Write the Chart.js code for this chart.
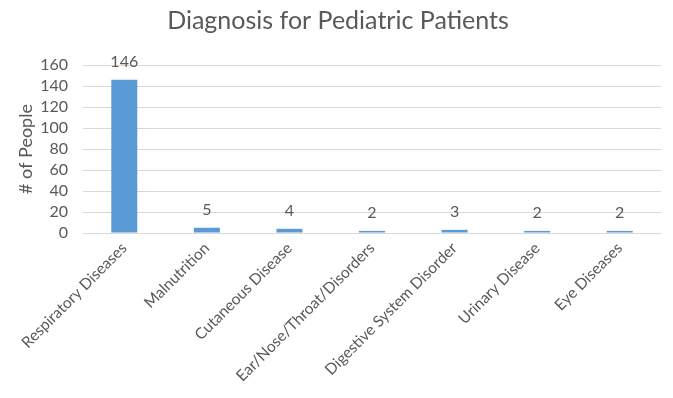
<!DOCTYPE html>
<html>
<head>
<meta charset="utf-8">
<script src="https://cdn.jsdelivr.net/npm/chart.js@4/dist/chart.umd.min.js"></script>
<style>
  html, body { margin: 0; padding: 0; background: #fff; }
  #wrap { width: 673px; height: 398px; }
</style>
</head>
<body>
<div id="wrap"><canvas id="chart"></canvas></div>
<script>
const categories = ['Respiratory Diseases', 'Malnutrition', 'Cutaneous Disease', 'Ear/Nose/Throat/Disorders', 'Digestive System Disorder', 'Urinary Disease', 'Eye Diseases'];
const people = [146, 5, 4, 2, 3, 2, 2];

const FONT = 'Lato, "Open Sans", sans-serif';
const GREY = '#595959';

// value labels above each bar
const barLabels = {
  id: 'barLabels',
  afterDatasetsDraw(chart) {
    const ctx = chart.ctx;
    const meta = chart.getDatasetMeta(0);
    ctx.save();
    ctx.font = '16px ' + FONT;
    ctx.fillStyle = GREY;
    ctx.textAlign = 'center';
    ctx.textBaseline = 'bottom';
    meta.data.forEach((bar, i) => {
      ctx.fillText(people[i], bar.x, bar.y - 10);
    });
    ctx.restore();
  }
};

new Chart(document.getElementById('chart'), {
  type: 'bar',
  data: {
    labels: categories,
    datasets: [{
      data: people,
      backgroundColor: '#5B9BD5',
      barPercentage: 0.5,
      categoryPercentage: 0.63
    }]
  },
  options: {
    responsive: true,
    maintainAspectRatio: false,
    animation: false,
    layout: { padding: { left: 15, right: 12, top: 4, bottom: 4 } },
    plugins: {
      legend: { display: false },
      tooltip: { enabled: false },
      title: {
        display: true,
        text: 'Diagnosis for Pediatric Patients',
        color: GREY,
        font: { family: FONT, size: 25, weight: 'normal' },
        padding: { top: 2, bottom: 29 }
      }
    },
    scales: {
      x: {
        grid: { display: false, drawTicks: false },
        border: { color: '#d9d9d9' },
        ticks: {
          color: GREY,
          font: { family: FONT, size: 15.5 },
          maxRotation: 45,
          minRotation: 45,
          autoSkip: false,
          padding: 6
        },
        afterFit(scale) { scale.height = 161; }
      },
      y: {
        min: 0,
        max: 160,
        grid: { color: '#d9d9d9', drawTicks: false },
        border: { display: false },
        ticks: {
          stepSize: 20,
          autoSkip: false,
          color: GREY,
          font: { family: FONT, size: 16 },
          padding: 15
        },
        title: {
          display: true,
          text: '# of People',
          color: GREY,
          font: { family: FONT, size: 18 },
          padding: 0
        },
        afterFit(scale) { scale.width = 68; }
      }
    }
  },
  plugins: [barLabels]
});
</script>
</body>
</html>
